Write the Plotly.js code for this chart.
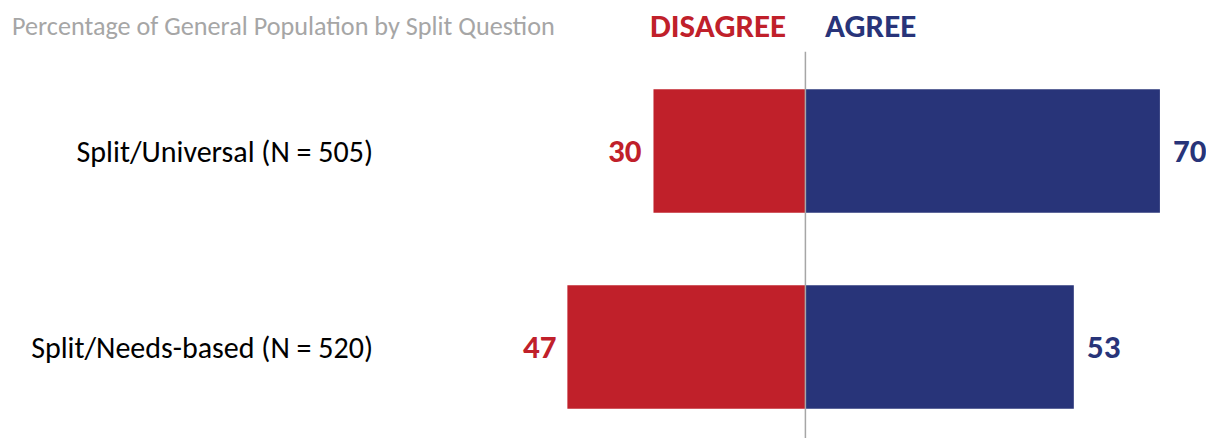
<!DOCTYPE html>
<html>
<head>
<meta charset="utf-8">
<script src="https://cdn.plot.ly/plotly-3.0.1.min.js"></script>
<style>html,body{margin:0;padding:0;background:#fff;}#chart{width:1206px;height:438px;}</style>
</head>
<body>
<div id="chart"></div>
<script>
const categories = ["Split/Universal (N = 505)", "Split/Needs-based (N = 520)"];
const disagree = [30, 47];
const agree = [70, 53];
const chartTitle = "Percentage of General Population by Split Question";
const seriesNames = ["DISAGREE", "AGREE"];

const RED = "#C0202A";
const NAVY = "#283479";
const FONT = "Carlito, Lato, 'Open Sans', sans-serif";

const traces = [
  {
    type: "bar", orientation: "h", name: seriesNames[0],
    y: categories, x: disagree.map(v => -v),
    marker: {color: RED}, hoverinfo: "skip"
  },
  {
    type: "bar", orientation: "h", name: seriesNames[1],
    y: categories, x: agree,
    marker: {color: NAVY}, hoverinfo: "skip"
  }
];

const annotations = [];
categories.forEach((c, i) => {
  annotations.push({x: -disagree[i], y: c, xref: "x", yref: "y", text: String(disagree[i]),
    showarrow: false, xanchor: "right", xshift: -9, font: {family: FONT, size: 33, color: RED, weight: "bold"}});
  annotations.push({x: agree[i], y: c, xref: "x", yref: "y", text: String(agree[i]),
    showarrow: false, xanchor: "left", xshift: 11, font: {family: FONT, size: 33, color: NAVY, weight: "bold"}});
});
annotations.push({x: 0, y: 1.07, xref: "x", yref: "paper", text: seriesNames[0], showarrow: false,
  xanchor: "right", yanchor: "middle", xshift: -17, font: {family: FONT, size: 33, color: RED, weight: "bold"}});
annotations.push({x: 0, y: 1.07, xref: "x", yref: "paper", text: seriesNames[1], showarrow: false,
  xanchor: "left", yanchor: "middle", xshift: 18, font: {family: FONT, size: 33, color: NAVY, weight: "bold"}});

const layout = {
  width: 1206, height: 438,
  margin: {l: 380, r: 0, t: 53, b: 0, pad: 0},
  paper_bgcolor: "#fff", plot_bgcolor: "#fff",
  showlegend: false,
  barmode: "relative",
  bargap: 0.37,
  title: {text: chartTitle, x: 0.01, xref: "container", xanchor: "left", y: 0.94, yref: "container", yanchor: "middle",
    font: {family: FONT, size: 26.2, color: "#A6A6A6"}},
  xaxis: {range: [-84.0, 79.1], showgrid: false, zeroline: false, showticklabels: false, fixedrange: true},
  yaxis: {type: "category", categoryarray: categories, categoryorder: "array", range: [1.464, -0.5],
    showgrid: false, zeroline: false, showline: false, ticks: "", ticklabelstandoff: 6,
    tickfont: {family: FONT, size: 30, color: "#000"}, fixedrange: true},
  shapes: [{type: "line", xref: "x", yref: "paper", x0: 0, x1: 0, y0: 0, y1: 1.003, layer: "above",
    line: {color: "#A6A6A6", width: 1.5}}],
  annotations: annotations
};

Plotly.newPlot("chart", traces, layout, {displayModeBar: false, staticPlot: true});
</script>
</body>
</html>
